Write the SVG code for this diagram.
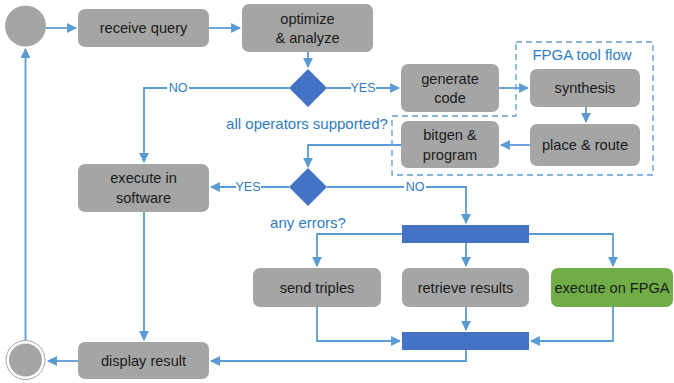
<svg xmlns="http://www.w3.org/2000/svg" width="674" height="383" viewBox="0 0 674 383">
<style>
.box{fill:#a5a5a5}
.fpga{fill:#70ad47}
.t{font-family:"Liberation Sans",Arial,sans-serif;font-size:14.6px;fill:#1a1a1a;text-anchor:middle;dominant-baseline:central}
.lbl{font-family:"Liberation Sans",Arial,sans-serif;font-size:15px;fill:#2e7cc4;dominant-baseline:central}
.sm{font-family:"Liberation Sans",Arial,sans-serif;font-size:12.5px;fill:#2e7cc4;dominant-baseline:central;text-anchor:middle}
.c{fill:none;stroke:#5b9bd5;stroke-width:1.8}
.dia{fill:#4472c4}
.bg{fill:#ffffff}
</style>
<defs>
<marker id="ah" viewBox="0 0 10 10" refX="9" refY="5" markerWidth="5.5" markerHeight="5.5" markerUnits="strokeWidth" orient="auto">
<path d="M0,0 L10,5 L0,10 z" fill="#5b9bd5"/>
</marker>
</defs>
<g id="fpga-flow-frame">
<path d="M516,42 H653 V175 H392 V116 H516 Z" fill="none" stroke="#5b9bd5" stroke-width="1.3" stroke-dasharray="6,4"/>
<text class="lbl" x="582" y="54" text-anchor="middle">FPGA tool flow</text>
</g>
<g id="connectors">
<path class="c" d="M46,28 H76" marker-end="url(#ah)"/>
<path class="c" d="M209,28 H240" marker-end="url(#ah)"/>
<path class="c" d="M308,52 V67" marker-end="url(#ah)"/>
<path class="c" d="M327,88 H399" marker-end="url(#ah)"/>
<path class="c" d="M289,88 H144 V162" marker-end="url(#ah)"/>
<path class="c" d="M499,88 H528" marker-end="url(#ah)"/>
<path class="c" d="M586,107 V122" marker-end="url(#ah)"/>
<path class="c" d="M530,145 H501" marker-end="url(#ah)"/>
<path class="c" d="M401,145 H308 V167" marker-end="url(#ah)"/>
<path class="c" d="M289,187 H211" marker-end="url(#ah)"/>
<path class="c" d="M327,187 H466 V223" marker-end="url(#ah)"/>
<path class="c" d="M402,234 H317 V266" marker-end="url(#ah)"/>
<path class="c" d="M466,243 V266" marker-end="url(#ah)"/>
<path class="c" d="M529,234 H613 V266" marker-end="url(#ah)"/>
<path class="c" d="M317,307 V341 H400" marker-end="url(#ah)"/>
<path class="c" d="M466,307 V330" marker-end="url(#ah)"/>
<path class="c" d="M613,307 V341 H531" marker-end="url(#ah)"/>
<path class="c" d="M466,350 V361 H211" marker-end="url(#ah)"/>
<path class="c" d="M144,212 V340" marker-end="url(#ah)"/>
<path class="c" d="M78,361 H48" marker-end="url(#ah)"/>
<path class="c" d="M25.5,341 V49" marker-end="url(#ah)"/>
<rect class="bg" x="167" y="80" width="22" height="16"/>
<text class="sm" x="178" y="88">NO</text>
<rect class="bg" x="351" y="80" width="25" height="16"/>
<text class="sm" x="363" y="88">YES</text>
<rect class="bg" x="236" y="179" width="25" height="16"/>
<text class="sm" x="248" y="187">YES</text>
<rect class="bg" x="404" y="179" width="22" height="16"/>
<text class="sm" x="415" y="187">NO</text>
</g>
<g id="start">
<circle cx="25.5" cy="26" r="20.5" fill="#a5a5a5"/>
</g>
<g id="end">
<circle cx="25.5" cy="360" r="19.5" fill="#ffffff" stroke="#a5a5a5" stroke-width="1"/>
<circle cx="25.5" cy="360" r="16.5" fill="#a5a5a5"/>
</g>
<g id="receive-query">
<rect class="box" x="78" y="9" width="131" height="38" rx="7"/>
<text class="t" x="143.5" y="28">receive query</text>
</g>
<g id="optimize">
<rect class="box" x="242" y="4" width="131" height="48" rx="7"/>
<text class="t" x="307.5" y="19">optimize</text>
<text class="t" x="307.5" y="38">&amp; analyze</text>
</g>
<g id="decision-supported">
<path class="dia" d="M308,69 L327,88 L308,107 L289,88 Z"/>
<text class="lbl" x="307" y="123" text-anchor="middle">all operators supported?</text>
</g>
<g id="generate-code">
<rect class="box" x="401" y="64" width="98" height="48" rx="7"/>
<text class="t" x="450" y="79">generate</text>
<text class="t" x="450" y="98">code</text>
</g>
<g id="synthesis">
<rect class="box" x="530" y="69" width="110" height="38" rx="7"/>
<text class="t" x="585" y="88">synthesis</text>
</g>
<g id="place-route">
<rect class="box" x="530" y="124" width="110" height="42" rx="7"/>
<text class="t" x="585" y="145">place &amp; route</text>
</g>
<g id="bitgen">
<rect class="box" x="401" y="121" width="98" height="47" rx="7"/>
<text class="t" x="450" y="135">bitgen &amp;</text>
<text class="t" x="450" y="155">program</text>
</g>
<g id="decision-errors">
<path class="dia" d="M308,168 L327,187 L308,206 L289,187 Z"/>
<text class="lbl" x="308" y="222" text-anchor="middle">any errors?</text>
</g>
<g id="execute-software">
<rect class="box" x="78" y="164" width="131" height="48" rx="7"/>
<text class="t" x="143.5" y="178">execute in</text>
<text class="t" x="143.5" y="198">software</text>
</g>
<g id="fork">
<rect class="dia" x="402" y="225" width="127" height="18"/>
</g>
<g id="send-triples">
<rect class="box" x="253" y="268" width="128" height="39" rx="7"/>
<text class="t" x="317" y="288">send triples</text>
</g>
<g id="retrieve-results">
<rect class="box" x="402" y="268" width="127" height="39" rx="7"/>
<text class="t" x="465.5" y="288">retrieve results</text>
</g>
<g id="execute-fpga">
<rect class="fpga" x="551" y="268" width="122" height="39" rx="7"/>
<text class="t" x="612" y="288">execute on FPGA</text>
</g>
<g id="join">
<rect class="dia" x="402" y="332" width="127" height="18"/>
</g>
<g id="display-result">
<rect class="box" x="78" y="342" width="131" height="37" rx="7"/>
<text class="t" x="143.5" y="361">display result</text>
</g>
</svg>
